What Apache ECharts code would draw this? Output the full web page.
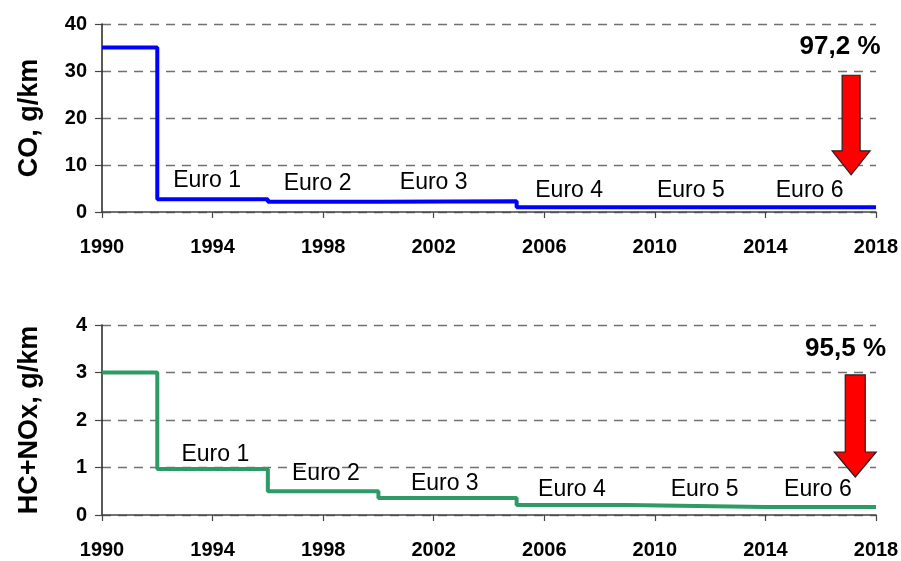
<!DOCTYPE html>
<html><head><meta charset="utf-8">
<script src="https://cdn.jsdelivr.net/npm/echarts@6/dist/echarts.min.js"></script>
<style>html,body{margin:0;padding:0;background:#fff}#c{width:901px;height:561px}</style>
</head><body><div id="c"></div>
<script>
// Step data: value valid from the given year
const years = [1990, 1992, 1996, 2000, 2005, 2009, 2014, 2018];
const coValues = [35, 2.72, 2.2, 2.3, 1.0, 1.0, 1.0, 1.0];
const hcNoxValues = [3.0, 0.97, 0.5, 0.36, 0.21, 0.17, 0.17, 0.17];

const euroNames = ['Euro 1', 'Euro 2', 'Euro 3', 'Euro 4', 'Euro 5', 'Euro 6'];
const coLabelYears = [1993.8, 1997.8, 2002.0, 2006.9, 2011.3, 2015.6];
const coLabelValues = [6.6, 6.0, 6.2, 4.5, 4.5, 4.5];
const hcLabelYears = [1994.1, 1998.1, 2002.4, 2007.0, 2011.8, 2015.9];
const hcLabelValues = [1.28, 0.88, 0.67, 0.53, 0.53, 0.53];

const coReduction = '97,2 %';
const hcReduction = '95,5 %';
const coPctPos = [2016.7, 35.1];
const hcPctPos = [2016.9, 3.49];
// arrows: [year, fromValue, toValue]
const coArrow = [2017.1, 29.1, 7.9];
const hcArrow = [2017.25, 2.95, 0.8];

const yearMin = 1990, yearMax = 2018, yearStep = 4;

const chart = echarts.init(document.getElementById('c'));
const FONT = '"Liberation Sans", Arial, sans-serif';

function pairs(xs, ys) { return xs.map((x, i) => [x, ys[i]]); }
function labelData(xs, ys) { return xs.map((x, i) => ({ value: [x, ys[i]], name: euroNames[i] })); }

function xAxisCfg(gi) {
  return {
    type: 'value', gridIndex: gi, min: yearMin, max: yearMax, interval: yearStep,
    axisLine: { show: true, onZero: false, lineStyle: { color: '#444', width: 1.5 } },
    axisTick: { show: true, length: 6, lineStyle: { color: '#444', width: 1.2 } },
    axisLabel: { margin: 25, color: '#000', fontFamily: FONT, fontWeight: 'bold', fontSize: 20,
      formatter: v => String(v) },
    splitLine: { show: false }
  };
}
function yAxisCfg(gi, max, interval, name) {
  return {
    type: 'value', gridIndex: gi, min: 0, max: max, interval: interval,
    name: name, nameLocation: 'middle', nameGap: 59,
    nameTextStyle: { color: '#000', fontFamily: FONT, fontWeight: 'bold', fontSize: 27 },
    axisLine: { show: true, lineStyle: { color: '#222', width: 1.5 } },
    axisTick: { show: true, length: 7, lineStyle: { color: '#444', width: 1.2 } },
    axisLabel: { margin: 15, color: '#000', fontFamily: FONT, fontWeight: 'bold', fontSize: 20 },
    splitLine: { show: true, lineStyle: { color: '#707070', type: [9, 7], width: 1.4 } }
  };
}
function arrowSeries(xi, yi, arr, sw, hw, hl) {
  return {
    type: 'custom', xAxisIndex: xi, yAxisIndex: yi, silent: true,
    data: [arr],
    renderItem: function (params, api) {
      const top = api.coord([api.value(0), api.value(1)]);
      const bot = api.coord([api.value(0), api.value(2)]);
      const cx = top[0];
      const pts = [
        [cx - sw, top[1]], [cx + sw, top[1]], [cx + sw, bot[1] - hl], [cx + hw, bot[1] - hl],
        [cx, bot[1]], [cx - hw, bot[1] - hl], [cx - sw, bot[1] - hl]
      ];
      return { type: 'polygon', shape: { points: pts }, style: { fill: '#ff0000', stroke: '#222', lineWidth: 1.2 } };
    },
    z: 5
  };
}
function textSeries(xi, yi, data, size, weight) {
  return {
    type: 'scatter', xAxisIndex: xi, yAxisIndex: yi, symbolSize: 0, silent: true,
    data: data,
    itemStyle: { opacity: 1 },
    label: { show: true, position: 'inside', formatter: '{b}', color: '#000', fontFamily: FONT, fontSize: size, fontWeight: weight },
    z: 6
  };
}

chart.setOption({
  animation: false,
  backgroundColor: '#fff',
  grid: [
    { left: 102, right: 25, top: 24, height: 188, outerBoundsMode: 'none', containLabel: false },
    { left: 102, right: 25, top: 325, height: 190, outerBoundsMode: 'none', containLabel: false }
  ],
  xAxis: [xAxisCfg(0), xAxisCfg(1)],
  yAxis: [yAxisCfg(0, 40, 10, 'CO, g/km'), yAxisCfg(1, 4, 1, 'HC+NOx, g/km')],
  series: [
    { type: 'line', xAxisIndex: 0, yAxisIndex: 0, step: 'end', symbol: 'none',
      data: pairs(years, coValues), lineStyle: { color: '#0000ff', width: 4 }, z: 4 },
    { type: 'line', xAxisIndex: 1, yAxisIndex: 1, step: 'end', symbol: 'none',
      data: pairs(years, hcNoxValues), lineStyle: { color: '#2e9a66', width: 4 }, z: 4 },
    textSeries(0, 0, labelData(coLabelYears, coLabelValues), 23, 'normal'),
    textSeries(1, 1, labelData(hcLabelYears, hcLabelValues), 23, 'normal'),
    textSeries(0, 0, [{ value: coPctPos, name: coReduction }], 26, 'bold'),
    textSeries(1, 1, [{ value: hcPctPos, name: hcReduction }], 26, 'bold'),
    arrowSeries(0, 0, coArrow, 9, 19, 24),
    arrowSeries(1, 1, hcArrow, 10, 21, 25)
  ]
});
</script></body></html>
